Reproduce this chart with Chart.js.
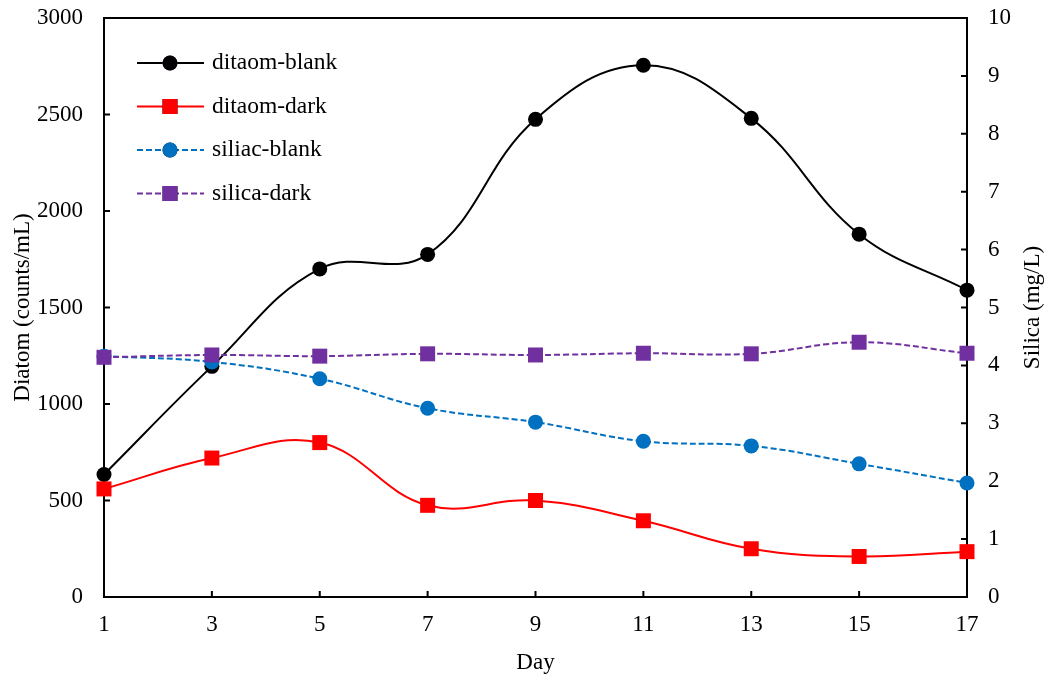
<!DOCTYPE html>
<html><head><meta charset="utf-8">
<script src="https://cdn.jsdelivr.net/npm/chart.js@4/dist/chart.umd.min.js"></script>
<style>html,body{margin:0;padding:0;background:#fff}#wrap{width:1049px;height:678px;position:relative}</style>
</head><body><div id="wrap"><canvas id="c"></canvas></div>
<script>
const days = ['1','3','5','7','9','11','13','15','17'];
const diatomBlank = [635,1195,1700,1775,2475,2755,2480,1880,1590];
const diatomDark = [560,720,800,475,500,395,250,210,235];
const silicaBlank = [4.16,4.06,3.77,3.26,3.02,2.69,2.61,2.30,1.97];
const silicaDark = [4.14,4.18,4.16,4.20,4.18,4.21,4.20,4.40,4.21];
const seriesNames = ['ditaom-blank','ditaom-dark','siliac-blank','silica-dark'];
const seriesColors = ['#000000','#FF0000','#0070C0','#7030A0'];
const leftAxis = {min:0, max:3000, step:500, title:'Diatom (counts/mL)'};
const rightAxis = {min:0, max:10, step:1, title:'Silica (mg/L)'};
const xTitle = 'Day';

const FONT = 'Liberation Serif, Times New Roman, serif';
Chart.defaults.font.family = FONT;
Chart.defaults.font.size = 23;
Chart.defaults.color = '#000';

const styles = [
  {style:'circle', radius:7.5, dash:[], axis:'y'},
  {style:'rect', radius:10.6, dash:[], axis:'y'},
  {style:'circle', radius:7.5, dash:[6,3], axis:'y1'},
  {style:'rect', radius:10.6, dash:[6,3], axis:'y1'}
];
const seriesData = [diatomBlank, diatomDark, silicaBlank, silicaDark];

const datasets = seriesData.map((d,i)=>({
  label: seriesNames[i], data: d, yAxisID: styles[i].axis,
  borderColor: seriesColors[i], backgroundColor: seriesColors[i],
  pointBackgroundColor: seriesColors[i], pointBorderWidth: 0,
  pointStyle: styles[i].style, pointRadius: styles[i].radius, pointHoverRadius: styles[i].radius,
  borderWidth: 2, borderDash: styles[i].dash, tension: 0.4, clip: false,
  order: 4 - i
}));

const frame = {
  id: 'frame',
  beforeDatasetsDraw(chart) {
    const ctx = chart.ctx, a = chart.chartArea;
    const x = chart.scales.x, y = chart.scales.y, y1 = chart.scales.y1;
    ctx.save();
    ctx.strokeStyle = '#000';
    ctx.lineWidth = 2;
    ctx.strokeRect(a.left, a.top, a.right - a.left, a.bottom - a.top);
    ctx.beginPath();
    const tl = 6;
    y.ticks.forEach(t => { const p = y.getPixelForValue(t.value); ctx.moveTo(a.left, p); ctx.lineTo(a.left + tl, p); });
    y1.ticks.forEach(t => { const p = y1.getPixelForValue(t.value); ctx.moveTo(a.right, p); ctx.lineTo(a.right - tl, p); });
    x.ticks.forEach((t,i) => { const p = x.getPixelForTick(i); ctx.moveTo(p, a.bottom); ctx.lineTo(p, a.bottom - tl); });
    ctx.stroke();
    // right axis title, reading bottom-to-top
    ctx.fillStyle = '#000';
    ctx.font = '23px ' + FONT;
    ctx.textAlign = 'center'; ctx.textBaseline = 'middle';
    ctx.translate(y1.right - 16, (a.top + a.bottom) / 2);
    ctx.rotate(-Math.PI / 2);
    ctx.fillText(rightAxis.title, 0, 0);
    ctx.restore();
  },
  afterDraw(chart) {
    const ctx = chart.ctx, a = chart.chartArea;
    const x0 = a.left + 33, x1 = a.left + 100, mx = a.left + 66, tx = a.left + 108;
    ctx.save();
    seriesNames.forEach((name,i) => {
      const yy = a.top + 45 + i * 43.5;
      ctx.strokeStyle = seriesColors[i];
      ctx.lineWidth = 2;
      ctx.setLineDash(styles[i].dash);
      ctx.beginPath(); ctx.moveTo(x0, yy); ctx.lineTo(x1, yy); ctx.stroke();
      ctx.setLineDash([]);
      Chart.helpers.drawPoint(ctx, {pointStyle: styles[i].style, radius: styles[i].radius, borderWidth: 0}, mx, yy);
      ctx.fillStyle = seriesColors[i];
      ctx.fill();
      ctx.fillStyle = '#000';
      ctx.font = '23.5px ' + FONT;
      ctx.textAlign = 'left'; ctx.textBaseline = 'middle';
      ctx.fillText(name, tx, yy);
    });
    ctx.restore();
  }
};

function fitY(w) {
  return s => { s.width = w; s.paddingTop = 0; s.paddingBottom = 0; };
}

new Chart(document.getElementById('c'), {
  type: 'line',
  data: { labels: days, datasets },
  options: {
    responsive: true, maintainAspectRatio: false, animation: false,
    layout: { padding: { top: 18, left: 0, right: 0, bottom: 0 } },
    plugins: { legend: { display: false }, tooltip: { enabled: false } },
    scales: {
      x: {
        type: 'category', offset: false,
        grid: { display: false, drawTicks: false }, border: { display: false },
        ticks: { padding: 14, maxRotation: 0, autoSkip: false },
        title: { display: true, text: xTitle, padding: { top: 0, bottom: 1 } },
        afterFit(s) { s.height = 81; s.paddingLeft = 0; s.paddingRight = 0; }
      },
      y: {
        position: 'left', min: leftAxis.min, max: leftAxis.max,
        grid: { display: false, drawTicks: false }, border: { display: false },
        ticks: { stepSize: leftAxis.step, padding: 21, callback: v => String(v) },
        title: { display: true, text: leftAxis.title, padding: { top: 9, bottom: 0 } },
        afterFit: fitY(104)
      },
      y1: {
        position: 'right', min: rightAxis.min, max: rightAxis.max,
        grid: { display: false, drawTicks: false }, border: { display: false },
        ticks: { stepSize: rightAxis.step, padding: 21, callback: v => String(v) },
        title: { display: false, text: rightAxis.title },
        afterFit: fitY(82)
      }
    }
  },
  plugins: [frame]
});
</script>
</body></html>
